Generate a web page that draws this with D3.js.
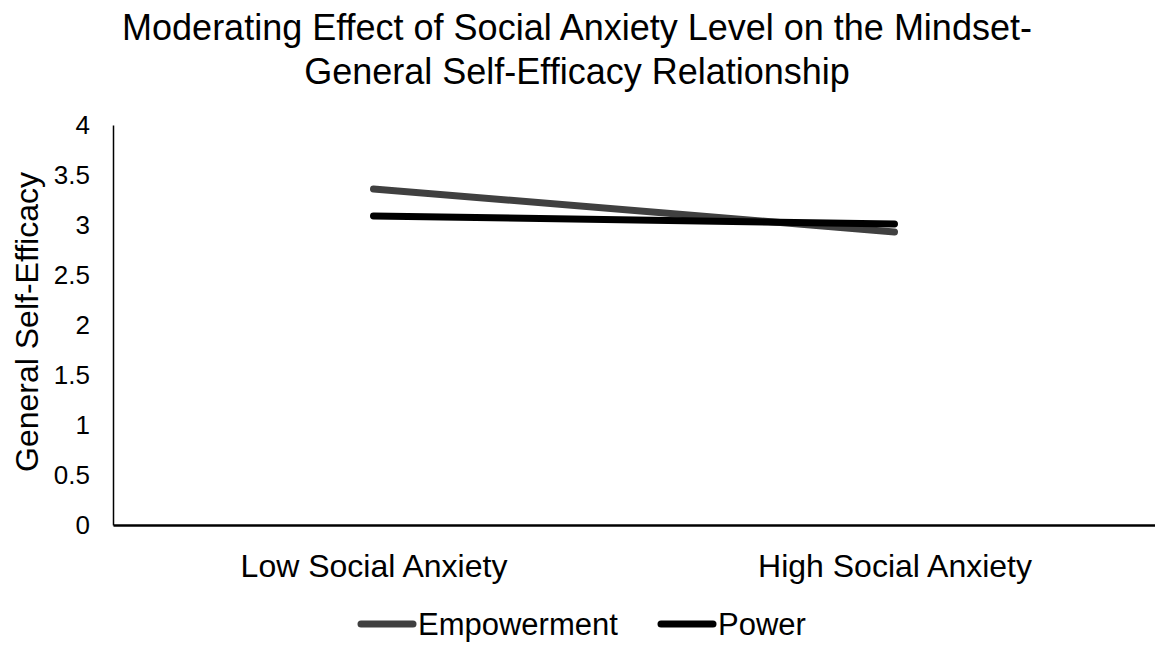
<!DOCTYPE html>
<html>
<head>
<meta charset="utf-8">
<script src="https://cdn.jsdelivr.net/npm/d3@7"></script>
<style>
  html, body { margin: 0; padding: 0; background: #fff; }
  svg text { font-family: "Liberation Sans", Arial, sans-serif; fill: #000; }
</style>
</head>
<body>
<svg id="chart" width="1155" height="645"></svg>
<script>
// Chart data
const categories = ["Low Social Anxiety", "High Social Anxiety"];
const seriesNames = ["Empowerment", "Power"];
const empowerment = [3.36, 2.93];
const power = [3.09, 3.01];
const yTicks = [0, 0.5, 1, 1.5, 2, 2.5, 3, 3.5, 4];
const titleLines = ["Moderating Effect of Social Anxiety Level on the Mindset-", "General Self-Efficacy Relationship"];
const yTitle = "General Self-Efficacy";

const series = [
  { name: seriesNames[0], values: empowerment, color: "#404040" },
  { name: seriesNames[1], values: power, color: "#000000" }
];

const svg = d3.select("#chart");
const plot = { left: 113, right: 1155, top: 125, bottom: 525 };

const x = d3.scalePoint().domain(categories).range([plot.left, plot.right]).padding(0.5);
const y = d3.scaleLinear().domain([0, 4]).range([plot.bottom, plot.top]);

// Title
svg.append("text")
  .attr("text-anchor", "middle")
  .style("font-size", "36px")
  .selectAll("tspan")
  .data(titleLines)
  .join("tspan")
  .attr("x", 577)
  .attr("y", (d, i) => 40 + i * 44)
  .text(d => d);

// Y axis
const yAxis = d3.axisLeft(y).tickValues(yTicks).tickSize(0).tickPadding(23)
  .tickFormat(d3.format("~g"));
const gy = svg.append("g").attr("transform", `translate(${plot.left},0)`).call(yAxis);
gy.select(".domain").attr("stroke", "#000").attr("stroke-width", 1.5);
gy.selectAll("text").style("font-size", "26px").style("font-family", "Liberation Sans, Arial, sans-serif").attr("fill", "#000");

// X axis
const xAxis = d3.axisBottom(x).tickSize(0).tickPadding(29);
const gx = svg.append("g").attr("transform", `translate(0,${plot.bottom})`).call(xAxis);
gx.select(".domain").attr("stroke", "#000").attr("stroke-width", 2.5);
gx.selectAll("text").style("font-size", "32px").style("font-family", "Liberation Sans, Arial, sans-serif").attr("fill", "#000");

// Y axis title
svg.append("text")
  .attr("transform", `translate(38,322) rotate(-90)`)
  .attr("text-anchor", "middle")
  .style("font-size", "32px")
  .text(yTitle);

// Series lines
const line = d3.line().x((d, i) => x(categories[i])).y(d => y(d));
svg.append("g").selectAll("path")
  .data(series)
  .join("path")
  .attr("d", d => line(d.values))
  .attr("fill", "none")
  .attr("stroke", d => d.color)
  .attr("stroke-width", 7)
  .attr("stroke-linecap", "round");

// Legend
const legendX = [361, 661];
const legend = svg.append("g").selectAll("g")
  .data(series)
  .join("g")
  .attr("transform", (d, i) => `translate(${legendX[i]},624)`);
legend.append("line")
  .attr("x1", 0).attr("x2", 52)
  .attr("stroke", d => d.color)
  .attr("stroke-width", 7)
  .attr("stroke-linecap", "round");
legend.append("text")
  .attr("x", 57)
  .attr("y", 11)
  .style("font-size", "31px")
  .text(d => d.name);
</script>
</body>
</html>
